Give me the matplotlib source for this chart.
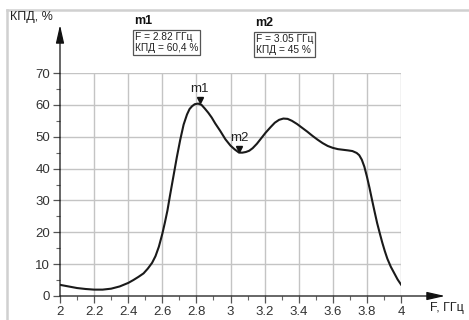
import matplotlib
matplotlib.use("Agg")
import matplotlib.pyplot as plt
from matplotlib.ticker import MultipleLocator

plt.rcParams['font.family'] = ['Liberation Sans', 'DejaVu Sans']

# Efficiency vs frequency
freq = [2.0, 2.05, 2.1, 2.15, 2.2, 2.25, 2.3, 2.35, 2.4, 2.43, 2.46, 2.49,
        2.515, 2.54, 2.56, 2.58, 2.6, 2.615, 2.63, 2.645, 2.665, 2.685, 2.705,
        2.725, 2.745, 2.76, 2.775, 2.79, 2.81, 2.83, 2.85, 2.87, 2.89, 2.91,
        2.94, 2.97, 3.0, 3.025, 3.05, 3.07, 3.09, 3.11, 3.13, 3.155, 3.18,
        3.205, 3.235, 3.26, 3.285, 3.31, 3.335, 3.36, 3.39, 3.42, 3.45, 3.48,
        3.51, 3.54, 3.57, 3.6, 3.63, 3.66, 3.69, 3.715, 3.74, 3.755, 3.77,
        3.785, 3.8, 3.815, 3.83, 3.845, 3.86, 3.875, 3.89, 3.905, 3.92, 3.94,
        3.96, 3.98, 4.0]
eff = [3.5, 3.0, 2.5, 2.2, 2.0, 2.0, 2.3, 3.0, 4.1, 5.0, 6.0, 7.1,
       8.6, 10.4, 12.5, 15.5, 19.5, 23.0, 26.8, 31.5, 37.5, 43.5, 49.0,
       53.8, 57.0, 58.7, 59.6, 60.2, 60.4, 60.0, 58.8, 57.5, 56.0, 54.2,
       51.8, 49.2, 47.2, 46.0, 45.0, 45.0, 45.2, 45.6, 46.4, 47.8, 49.5,
       51.2, 53.0, 54.4, 55.3, 55.7, 55.6, 55.0, 54.0, 52.8, 51.6, 50.3,
       49.1, 48.0, 47.1, 46.5, 46.1, 45.9, 45.7, 45.5, 44.9, 44.2, 42.8,
       40.6, 37.5, 34.0, 30.2, 26.5, 22.9, 19.8, 16.8, 14.1, 11.7, 9.2,
       7.2, 5.2, 3.6]

markers = ["m1", "m2"]
marker_f = [2.82, 3.05]
marker_eff = [60.4, 45.0]
marker_text = ["F = 2.82 ГГц\nКПД = 60,4 %", "F = 3.05 ГГц\nКПД = 45 %"]

x_ticks = [2, 2.2, 2.4, 2.6, 2.8, 3, 3.2, 3.4, 3.6, 3.8, 4]
x_tick_labels = ["2", "2.2", "2.4", "2.6", "2.8", "3", "3.2", "3.4", "3.6", "3.8", "4"]
y_ticks = [0, 10, 20, 30, 40, 50, 60, 70]

W, H = 469, 320
fig = plt.figure(figsize=(W / 100, H / 100), dpi=100)
ax = fig.add_axes([60 / W, 24 / H, 341 / W, 223 / H])
ax.set_xlim(2, 4)
ax.set_ylim(0, 70)

grid_c = "#c4c4c4"
for xv in x_ticks[1:]:
    ax.plot([xv, xv], [0, 70], color=grid_c, lw=1.0, zorder=1)
for yv in y_ticks[1:]:
    ax.plot([2, 4], [yv, yv], color=grid_c, lw=1.0, zorder=1)

for s in ax.spines.values():
    s.set_visible(False)

ax.set_xticks(x_ticks)
ax.set_xticklabels(x_tick_labels)
ax.set_yticks(y_ticks)
ax.xaxis.set_minor_locator(MultipleLocator(0.1))
ax.yaxis.set_minor_locator(MultipleLocator(5))
ax.tick_params(axis='both', which='major', length=5, width=0.9, color='#555555',
               labelsize=9.5, labelcolor='#333333', pad=2)
ax.tick_params(axis='both', which='minor', length=3, width=0.8, color='#666666')

# Axis arrows
arrow_kw = dict(arrowstyle='-|>,head_length=1.1,head_width=0.25', color='#111111',
                lw=0.9, shrinkA=0, shrinkB=0)
ax.annotate("", xy=(60, 295), xytext=(60, 24), xycoords='figure pixels',
            textcoords='figure pixels', arrowprops=arrow_kw, annotation_clip=False)
ax.annotate("", xy=(445, 24), xytext=(60, 24), xycoords='figure pixels',
            textcoords='figure pixels', arrowprops=arrow_kw, annotation_clip=False)

fig.text(10 / W, 1 - 17 / H, "КПД, %", fontsize=9, color='#222222', va='center')
fig.text(430 / W, 1 - 308 / H, "F, ГГц", fontsize=9, color='#222222', va='center')

ax.plot(freq, eff, color='#1a1a1a', lw=1.5, zorder=3, solid_joinstyle='round')

for name, f, e in zip(markers, marker_f, marker_eff):
    ax.plot([f], [e + 1.2], marker='v', ms=5, color='#111111', zorder=4, clip_on=False)
    ax.annotate(name, (f, e), xytext=(0, 6), textcoords='offset points',
                ha='center', va='bottom', fontsize=9.5, color='#222222')

# Marker readouts above the plot
box_x = [133, 254]
box_y = [31, 33]
for name, txt, x0, y0 in zip(markers, marker_text, box_x, box_y):
    fig.text((x0 + 1) / W, 1 - (y0 - 10) / H, name, fontsize=9, fontweight='bold',
             color='#111111', va='center')
    fig.text((x0 + 2) / W, 1 - (y0 + 1) / H, txt, fontsize=7.3, color='#222222',
             va='top', linespacing=1.15,
             bbox=dict(boxstyle='square,pad=0.15', fc='white', ec='#555555', lw=0.9))

# Outer frame edges
fig.add_artist(plt.Line2D([7 / W, 1], [1 - 10 / H, 1 - 10 / H], color='#d0d0d0', lw=1.8))
fig.add_artist(plt.Line2D([7 / W, 7 / W], [0, 1 - 10 / H], color='#d0d0d0', lw=1.8))

fig.savefig("out.png", dpi=100, facecolor='white')
